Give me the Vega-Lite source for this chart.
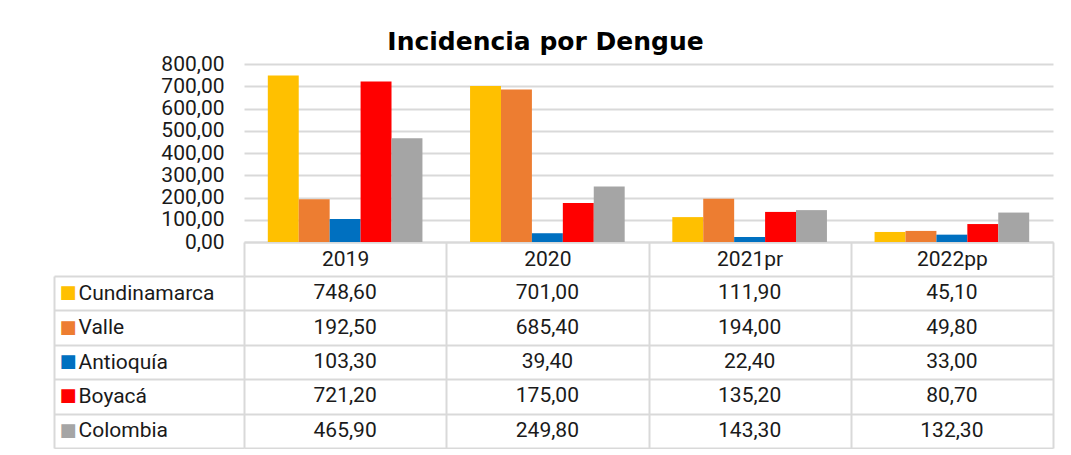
{
  "$schema": "https://vega.github.io/schema/vega-lite/v6.json",
  "background": "white",
  "padding": {"left": 53, "top": 30, "right": 10, "bottom": 0},
  "config": {
    "locale": {"number": {"decimal": ",", "thousands": ".", "grouping": [3], "currency": ["$", ""]}},
    "view": {"stroke": null},
    "font": "Roboto"
  },
  "title": {"text": "Incidencia por Dengue", "font": "DejaVu Sans", "fontSize": 25, "fontWeight": "bold", "color": "#000000", "anchor": "middle", "offset": -2, "dx": -8},
  "data": {"values": [
    {"year": "2019", "series": "Cundinamarca", "value": 748.6},
    {"year": "2019", "series": "Valle", "value": 192.5},
    {"year": "2019", "series": "Antioquía", "value": 103.3},
    {"year": "2019", "series": "Boyacá", "value": 721.2},
    {"year": "2019", "series": "Colombia", "value": 465.9},
    {"year": "2020", "series": "Cundinamarca", "value": 701.0},
    {"year": "2020", "series": "Valle", "value": 685.4},
    {"year": "2020", "series": "Antioquía", "value": 39.4},
    {"year": "2020", "series": "Boyacá", "value": 175.0},
    {"year": "2020", "series": "Colombia", "value": 249.8},
    {"year": "2021pr", "series": "Cundinamarca", "value": 111.9},
    {"year": "2021pr", "series": "Valle", "value": 194.0},
    {"year": "2021pr", "series": "Antioquía", "value": 22.4},
    {"year": "2021pr", "series": "Boyacá", "value": 135.2},
    {"year": "2021pr", "series": "Colombia", "value": 143.3},
    {"year": "2022pp", "series": "Cundinamarca", "value": 45.1},
    {"year": "2022pp", "series": "Valle", "value": 49.8},
    {"year": "2022pp", "series": "Antioquía", "value": 33.0},
    {"year": "2022pp", "series": "Boyacá", "value": 80.7},
    {"year": "2022pp", "series": "Colombia", "value": 132.3}
  ]},
  "spacing": 34,
  "bounds": "flush",
  "resolve": {"scale": {"x": "independent", "y": "independent"}, "axis": {"x": "independent", "y": "independent"}},
  "vconcat": [
    {
      "width": 809,
      "height": 178,
      "mark": {"type": "bar"},
      "encoding": {
        "x": {"field": "year", "type": "nominal", "sort": ["2019", "2020", "2021pr", "2022pp"],
              "scale": {"paddingInner": 0, "paddingOuter": 0},
              "axis": {"title": null, "labels": false, "ticks": false, "grid": false, "domain": true, "domainColor": "#d9d9d9", "domainWidth": 2}},
        "xOffset": {"field": "series", "type": "nominal", "sort": ["Cundinamarca", "Valle", "Antioquía", "Boyacá", "Colombia"],
                    "scale": {"paddingInner": 0, "paddingOuter": 0.77}},
        "y": {"field": "value", "type": "quantitative",
              "scale": {"domain": [0, 800], "nice": false},
              "axis": {"title": null, "values": [0, 100, 200, 300, 400, 500, 600, 700, 800], "format": ".2f",
                       "labelFont": "Roboto", "labelFontSize": 21, "labelColor": "#1a1a1a", "labelPadding": 20, "ticks": false, "domain": false,
                       "grid": true, "gridColor": "#d9d9d9", "gridWidth": 2}},
        "color": {"field": "series", "type": "nominal",
                  "scale": {"domain": ["Cundinamarca", "Valle", "Antioquía", "Boyacá", "Colombia"],
                            "range": ["#FFC000", "#ED7D31", "#0070C0", "#FF0000", "#A5A5A5"]},
                  "legend": null}
      }
    },
    {
      "width": 809,
      "height": 172,
      "layer": [
        {
          "mark": {"type": "text", "fontSize": 21, "color": "#1a1a1a", "font": "Roboto"},
          "encoding": {
            "x": {"field": "year", "type": "nominal", "sort": ["2019", "2020", "2021pr", "2022pp"],
                  "scale": {"paddingInner": 0, "paddingOuter": 0},
                  "axis": {"orient": "top", "title": null, "tickBand": "extent", "tickSize": 34, "tickColor": "#d9d9d9", "tickWidth": 2,
                           "labelPadding": -17, "labelBaseline": "middle", "labelAngle": 0, "labelFont": "Roboto", "labelFontSize": 21, "labelColor": "#1a1a1a",
                           "domain": false, "grid": true, "gridColor": "#d9d9d9", "gridWidth": 2}},
            "y": {"field": "series", "type": "nominal", "sort": ["Cundinamarca", "Valle", "Antioquía", "Boyacá", "Colombia"],
                  "scale": {"paddingInner": 0, "paddingOuter": 0},
                  "axis": {"title": null, "tickBand": "extent", "tickSize": 190, "tickColor": "#d9d9d9", "tickWidth": 2,
                           "labelAlign": "left", "labelPadding": -24, "labelFont": "Roboto", "labelFontSize": 21, "labelColor": "#1a1a1a",
                           "domain": false, "grid": true, "gridColor": "#d9d9d9", "gridWidth": 2}},
            "text": {"field": "value", "type": "quantitative", "format": ".2f"}
          }
        },
        {
          "mark": {"type": "text", "opacity": 0, "text": ""},
          "encoding": {
            "y": {"field": "series", "type": "nominal", "sort": ["Cundinamarca", "Valle", "Antioquía", "Boyacá", "Colombia"],
                  "axis": {"orient": "left", "offset": 190, "title": null, "ticks": false, "grid": false,
                           "domain": true, "domainColor": "#d9d9d9", "domainWidth": 2,
                           "labelExpr": "'■'", "labelFont": "DejaVu Sans", "labelAlign": "left", "labelPadding": -5, "labelFontSize": 18,
                           "labelColor": {"condition": [
                             {"test": "datum.value === 'Cundinamarca'", "value": "#FFC000"},
                             {"test": "datum.value === 'Valle'", "value": "#ED7D31"},
                             {"test": "datum.value === 'Antioquía'", "value": "#0070C0"},
                             {"test": "datum.value === 'Boyacá'", "value": "#FF0000"}
                           ], "value": "#A5A5A5"}}}
          }
        }
      ],
      "resolve": {"axis": {"y": "independent"}}
    }
  ]
}
